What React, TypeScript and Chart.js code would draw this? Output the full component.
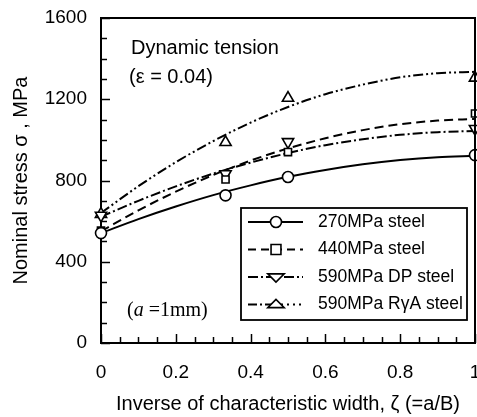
import React, { useEffect, useRef } from 'react';
import { Chart, registerables } from 'chart.js';

Chart.register(...registerables);

// ---- data ----
const curveX = [0, 0.1, 0.2, 0.3, 0.4, 0.5, 0.6, 0.7, 0.8, 0.9, 1];
const curve270 = [541, 610, 672, 728, 776, 818, 852, 880, 901, 915, 922];
const curve440 = [550, 653, 745, 827, 898, 958, 1008, 1048, 1077, 1095, 1103];
const curveDP = [622, 700, 771, 834, 888, 935, 974, 1003, 1025, 1038, 1044];
const curveRA = [640, 772, 890, 994, 1085, 1162, 1225, 1272, 1308, 1328, 1335];

const markerX = [0, 0.333, 0.5, 1];
const marker270 = [541, 727, 817, 925];
const marker440 = [553, 805, 940, 1130];
const markerDP = [628, 832, 990, 1055];
const markerRA = [634, 988, 1206, 1305];

const seriesNames = ['270MPa steel', '440MPa steel', '590MPa DP steel', '590MPa R\u03b3A steel'];

const xTickValues = [0, 0.2, 0.4, 0.6, 0.8, 1];
const xTickLabels = ['0', '0.2', '0.4', '0.6', '0.8', '1'];
const yTickValues = [0, 400, 800, 1200, 1600];
const yTickLabels = ['0', '400', '800', '1200', '1600'];
const xMinorStep = 0.05;
const yMinorStep = 100;

// ---- styles ----
const SANS = '"Liberation Sans", Arial, Helvetica, sans-serif';
const SERIF = '"Liberation Serif", "Times New Roman", serif';
const dashes: number[][] = [[], [9, 5], [10, 3, 2, 3], [10, 3, 2, 3, 2, 3]];
const markerStyles: any[] = ['circle', 'rect', 'triangle', 'triangle'];
const markerRot = [0, 0, 180, 0];

function pts(xs: number[], ys: number[]) {
  return xs.map((x, i) => ({ x, y: ys[i] }));
}

function drawMarker(ctx: CanvasRenderingContext2D, kind: number, cx: number, cy: number, r: number) {
  ctx.beginPath();
  if (kind === 0) {
    ctx.arc(cx, cy, r, 0, Math.PI * 2);
  } else if (kind === 1) {
    const s = r * 0.9;
    ctx.rect(cx - s, cy - s, 2 * s, 2 * s);
  } else {
    const h = r * 1.5;
    const w = r * 0.95 * Math.sqrt(3);
    const dir = kind === 2 ? -1 : 1;
    ctx.moveTo(cx, cy - dir * h * 0.62);
    ctx.lineTo(cx - w / 1.1, cy + dir * h * 0.38);
    ctx.lineTo(cx + w / 1.1, cy + dir * h * 0.38);
    ctx.closePath();
  }
  ctx.setLineDash([]);
  ctx.fillStyle = '#fff';
  ctx.fill();
  ctx.stroke();
}

const decorPlugin = {
  id: 'decor',
  afterDraw(chart: any) {
    const { ctx, chartArea, scales } = chart;
    const { left, right, top, bottom } = chartArea;
    const xs = scales.x;
    const ys = scales.y;
    ctx.save();
    ctx.strokeStyle = '#000';
    ctx.fillStyle = '#000';
    // frame (top, right)
    ctx.lineWidth = 2;
    ctx.beginPath();
    ctx.moveTo(left, top);
    ctx.lineTo(right, top);
    ctx.lineTo(right, bottom);
    ctx.stroke();
    // inward ticks
    ctx.lineWidth = 1.5;
    for (let v = 0; v <= 1600 + 1e-6; v += yMinorStep) {
      const py = Math.round(ys.getPixelForValue(v)) + 0.5;
      const len = yTickValues.includes(v) ? 9 : 6;
      ctx.beginPath();
      ctx.moveTo(left, py);
      ctx.lineTo(left + len, py);
      ctx.stroke();
    }
    for (let i = 0; i * xMinorStep <= 1 + 1e-6; i++) {
      const v = +(i * xMinorStep).toFixed(2);
      const px = Math.round(xs.getPixelForValue(v)) + 0.5;
      const len = xTickValues.includes(v) ? 9 : 6;
      ctx.beginPath();
      ctx.moveTo(px, bottom);
      ctx.lineTo(px, bottom - len);
      ctx.stroke();
    }

    // annotations
    ctx.textBaseline = 'middle';
    ctx.textAlign = 'left';
    ctx.font = `20px ${SANS}`;
    ctx.fillText('Dynamic tension', 131, 48);
    ctx.fillText('(\u03b5 = 0.04)', 129, 77);
    // (a =1mm)
    let tx = 127;
    ctx.font = `20px ${SERIF}`;
    ctx.fillText('(', tx, 311);
    tx += ctx.measureText('(').width;
    ctx.font = `italic 20px ${SERIF}`;
    ctx.fillText('a', tx, 311);
    tx += ctx.measureText('a').width;
    ctx.font = `20px ${SERIF}`;
    ctx.fillText(' =1mm)', tx, 311);

    // legend
    const bx = 241, by = 208, bw = 226, bh = 112;
    ctx.fillStyle = '#fff';
    ctx.fillRect(bx, by, bw, bh);
    ctx.lineWidth = 1.8;
    ctx.strokeRect(bx, by, bw, bh);
    ctx.font = `17.5px ${SANS}`;
    seriesNames.forEach((name, i) => {
      const cy = 222 + 27.5 * i;
      ctx.lineWidth = 2;
      if (i === 3) {
        ctx.setLineDash([9, 3, 2, 3]);
        ctx.beginPath(); ctx.moveTo(248, cy); ctx.lineTo(275, cy); ctx.stroke();
        ctx.setLineDash([2, 4]);
        ctx.beginPath(); ctx.moveTo(275, cy); ctx.lineTo(303, cy); ctx.stroke();
      } else {
        ctx.setLineDash(i === 1 ? [8, 5] : i === 2 ? [10, 3, 2, 3] : []);
        ctx.beginPath(); ctx.moveTo(248, cy); ctx.lineTo(303, cy); ctx.stroke();
      }
      ctx.lineWidth = 1.6;
      drawMarker(ctx, i, 276, cy, 5.5);
      ctx.fillStyle = '#000';
      ctx.fillText(name, 318, cy);
    });
    ctx.restore();
  },
};

export default function App() {
  const ref = useRef<HTMLCanvasElement | null>(null);
  useEffect(() => {
    document.body.style.margin = '0';
    Chart.defaults.font.family = SANS;
    Chart.defaults.color = '#000';
    const curves = [curve270, curve440, curveDP, curveRA];
    const markers = [marker270, marker440, markerDP, markerRA];
    const datasets: any[] = [];
    curves.forEach((c, i) => {
      datasets.push({
        label: seriesNames[i] + ' fit',
        data: pts(curveX, c),
        showLine: true,
        borderColor: '#000',
        borderWidth: 2,
        borderDash: dashes[i],
        pointRadius: 0,
        cubicInterpolationMode: 'monotone',
        order: 2,
      });
    });
    markers.forEach((m, i) => {
      datasets.push({
        label: seriesNames[i],
        data: pts(markerX, m),
        showLine: false,
        pointStyle: markerStyles[i],
        rotation: markerRot[i],
        pointRadius: i === 1 ? 5 : i === 0 ? 5.5 : 6.5,
        pointBorderWidth: 1.6,
        pointBorderColor: '#000',
        pointBackgroundColor: '#fff',
        borderColor: '#000',
        backgroundColor: '#fff',
        clip: false,
        order: 1,
      });
    });
    const chart = new Chart(ref.current as HTMLCanvasElement, {
      type: 'scatter',
      data: { datasets },
      options: {
        animation: false,
        responsive: false,
        devicePixelRatio: 1,
        layout: { autoPadding: false, padding: { left: 0, right: 2, top: 18, bottom: 0 } },
        plugins: { legend: { display: false }, tooltip: { enabled: false } },
        scales: {
          x: {
            type: 'linear',
            min: 0,
            max: 1,
            afterBuildTicks: (s: any) => { s.ticks = xTickValues.map((v) => ({ value: v })); },
            afterFit: (s: any) => { s.height = 74; s.paddingLeft = 0; s.paddingRight = 0; },
            ticks: {
              padding: 18,
              font: { size: 19 },
              color: '#000',
              callback: (v: any) => { const k = xTickValues.indexOf(+v); return k >= 0 ? xTickLabels[k] : ''; },
            },
            grid: { display: false, drawTicks: false },
            border: { display: true, color: '#000', width: 2 },
            title: {
              display: true,
              text: 'Inverse of characteristic width, \u03b6 (=a/B)',
              font: { size: 20 },
              color: '#000',
              padding: { top: 0, bottom: 1 },
            },
          },
          y: {
            type: 'linear',
            min: 0,
            max: 1600,
            afterBuildTicks: (s: any) => { s.ticks = yTickValues.map((v) => ({ value: v })); },
            afterFit: (s: any) => { s.width = 101; s.paddingTop = 0; s.paddingBottom = 0; },
            ticks: {
              padding: 14,
              font: { size: 19 },
              color: '#000',
              callback: (v: any) => { const k = yTickValues.indexOf(+v); return k >= 0 ? yTickLabels[k] : ''; },
            },
            grid: { display: false, drawTicks: false },
            border: { display: true, color: '#000', width: 2 },
            title: {
              display: true,
              text: 'Nominal stress \u03c3 , MPa',
              font: { size: 20 },
              color: '#000',
              padding: { top: 9, bottom: 0 },
            },
          },
        },
      },
      plugins: [decorPlugin],
    } as any);
    return () => chart.destroy();
  }, []);
  return (
    <div style={{ width: 477, height: 417 }}>
      <canvas ref={ref} width={477} height={417} style={{ display: 'block', width: 477, height: 417 }} />
    </div>
  );
}
